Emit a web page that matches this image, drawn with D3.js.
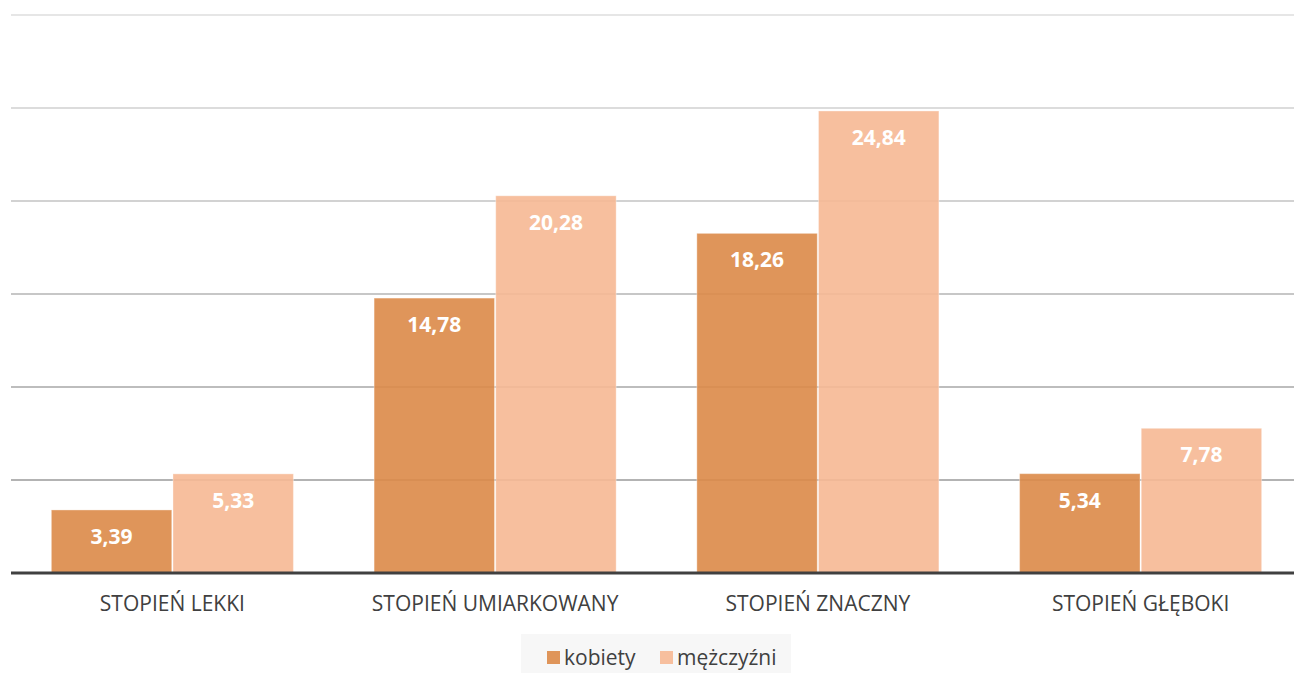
<!DOCTYPE html>
<html>
<head>
<meta charset="utf-8">
<script src="https://cdn.jsdelivr.net/npm/d3@7"></script>
<style>
  body { margin: 0; background: #fff; }
  svg { display: block; font-family: "Open Sans", "Liberation Sans", sans-serif; }
</style>
</head>
<body>
<div id="chart"></div>
<script>
const categories = ['STOPIEŃ LEKKI', 'STOPIEŃ UMIARKOWANY', 'STOPIEŃ ZNACZNY', 'STOPIEŃ GŁĘBOKI'];
const seriesNames = ['kobiety', 'mężczyźni'];
const kobiety = [3.39, 14.78, 18.26, 5.34];
const mezczyzni = [5.33, 20.28, 24.84, 7.78];
const yTicks = [0, 5, 10, 15, 20, 25, 30];

const width = 1294, height = 673;
const colors = ['rgb(219,137,72)', 'rgb(246,184,147)'];
const swatch = ['rgb(223,149,90)', 'rgb(247,191,158)'];

const svg = d3.select('#chart').append('svg')
    .attr('width', width)
    .attr('height', height);

const x = d3.scaleBand()
    .domain(categories)
    .range([11, 1302])
    .paddingInner(0.25)
    .paddingOuter(0.125);

const xs = d3.scaleBand()
    .domain(seriesNames)
    .range([0, x.bandwidth()])
    .paddingInner(0.01);

const y = d3.scaleLinear().domain([0, 30]).range([573, 15]);

// gridlines fade lighter towards the top
const gridColor = d3.scaleLinear().domain([5, 30]).range(['#b3b3b3', '#e6e6e6']);
svg.append('g')
    .selectAll('line')
    .data(yTicks.filter(d => d > 0))
    .enter()
    .append('line')
    .attr('x1', 11)
    .attr('x2', width)
    .attr('y1', d => y(d))
    .attr('y2', d => y(d))
    .attr('stroke', d => gridColor(d))
    .attr('stroke-width', 2);

const rows = categories.map((c, i) => ({ cat: c, vals: [kobiety[i], mezczyzni[i]] }));

const groups = svg.append('g')
    .selectAll('g')
    .data(rows)
    .enter()
    .append('g')
    .attr('transform', d => `translate(${x(d.cat)},0)`);

const bars = groups.selectAll('g.bar')
    .data(d => d.vals.map((v, j) => ({ key: seriesNames[j], v, j })))
    .enter()
    .append('g')
    .attr('class', 'bar');

bars.append('rect')
    .attr('x', d => xs(d.key))
    .attr('y', d => y(d.v))
    .attr('width', xs.bandwidth())
    .attr('height', d => y(0) - y(d.v))
    .attr('fill', d => colors[d.j])
    .attr('fill-opacity', 0.9)
    .attr('stroke', '#fff')
    .attr('stroke-opacity', 0.35)
    .attr('stroke-width', 1);

bars.append('text')
    .attr('x', d => xs(d.key) + xs.bandwidth() / 2)
    .attr('y', d => y(d.v) + 34)
    .attr('text-anchor', 'middle')
    .attr('fill', '#fff')
    .attr('font-weight', 'bold')
    .attr('font-size', 21)
    .text(d => d.v.toFixed(2).replace('.', ','));

// baseline
svg.append('line')
    .attr('x1', 11)
    .attr('x2', width)
    .attr('y1', y(0))
    .attr('y2', y(0))
    .attr('stroke', '#404040')
    .attr('stroke-width', 3);

// category axis labels
const xAxis = svg.append('g')
    .attr('transform', `translate(0,${y(0)})`)
    .call(d3.axisBottom(x).tickSize(0).tickPadding(23));
xAxis.select('.domain').remove();
xAxis.selectAll('text')
    .attr('font-size', 21)
    .attr('fill', '#404040')
    .attr('font-family', '"Open Sans", sans-serif');

// legend
const legend = svg.append('g');
legend.append('rect')
    .attr('x', 521)
    .attr('y', 634)
    .attr('width', 270)
    .attr('height', 39)
    .attr('fill', '#f7f7f7');

const legendItems = [{ name: seriesNames[0], x: 547 }, { name: seriesNames[1], x: 660 }];
legendItems.forEach((it, i) => {
    legend.append('rect')
        .attr('x', it.x)
        .attr('y', 651)
        .attr('width', 13)
        .attr('height', 13)
        .attr('fill', swatch[i]);
    legend.append('text')
        .attr('x', it.x + 17)
        .attr('y', 665)
        .attr('font-size', 21)
        .attr('fill', '#404040')
        .text(it.name);
});
</script>
</body>
</html>
